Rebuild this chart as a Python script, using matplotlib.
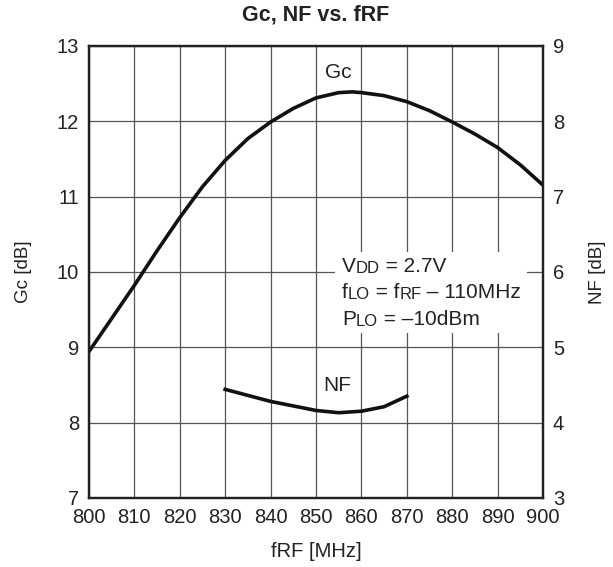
import matplotlib
matplotlib.use("Agg")
import matplotlib.pyplot as plt
from matplotlib.patches import Rectangle

plt.rcParams["font.family"] = ["Liberation Sans", "DejaVu Sans"]

# Gc vs fRF (left axis)
gc_freq = [800, 805, 810, 815, 820, 825, 830, 835, 840, 845, 850, 855, 858, 860, 865, 870, 875, 880, 885, 890, 895, 900]
gc_db = [8.94, 9.38, 9.82, 10.28, 10.72, 11.13, 11.48, 11.77, 11.99, 12.17, 12.31, 12.38, 12.39, 12.38, 12.34, 12.26, 12.14, 11.99, 11.83, 11.65, 11.42, 11.15]

# NF vs fRF (right axis)
nf_freq = [830, 835, 840, 845, 850, 855, 860, 865, 870]
nf_db = [4.44, 4.36, 4.28, 4.22, 4.16, 4.13, 4.15, 4.21, 4.35]

x_ticks = [800, 810, 820, 830, 840, 850, 860, 870, 880, 890, 900]
gc_ticks = [7, 8, 9, 10, 11, 12, 13]
nf_ticks = [3, 4, 5, 6, 7, 8, 9]

fig = plt.figure(figsize=(6.13, 5.67), dpi=100)
ax = fig.add_axes([0.145, 0.122, 0.741, 0.797])
ax2 = ax.twinx()

ax.set_xlim(800, 900)
ax.set_ylim(7, 13)
ax2.set_ylim(3, 9)
ax.set_xticks(x_ticks)
ax.set_yticks(gc_ticks)
ax2.set_yticks(nf_ticks)

ax.grid(True, color="#555555", linewidth=0.9, zorder=0.5)
ax.set_axisbelow(True)
for a in (ax, ax2):
    for s in a.spines.values():
        s.set_linewidth(1.6)
        s.set_color("#222222")
    a.tick_params(direction="in", length=0, labelsize=14.5, pad=7, labelcolor="#222222")

# white box behind the condition text
ax.add_patch(Rectangle((0.542, 0.365), 0.423, 0.179, transform=ax.transAxes,
                       facecolor="white", edgecolor="none", zorder=1))

ax.plot(gc_freq, gc_db, color="#111111", linewidth=2.6, zorder=3)
ax2.plot(nf_freq, nf_db, color="#111111", linewidth=2.6, zorder=3)

ax.text(855, 12.58, "Gc", fontsize=15, ha="center", va="baseline", zorder=4, color="#222222")
ax2.text(854.6, 4.42, "NF", fontsize=15, ha="center", va="baseline", zorder=4, color="#222222")

ax.set_title("Gc, NF vs. fRF", fontsize=15.5, fontweight="bold", pad=18, color="#222222")
ax.set_xlabel("fRF [MHz]", fontsize=14.5, labelpad=11, color="#222222")
ax.set_ylabel("Gc [dB]", fontsize=13.5, labelpad=18, color="#222222")
ax2.set_ylabel("NF [dB]", fontsize=13.5, labelpad=18, color="#222222")


def chain(parts, x, y):
    prev = None
    for txt, size in parts:
        if prev is None:
            prev = ax.text(x, y, txt, fontsize=size, transform=ax.transAxes,
                           va="baseline", ha="left", zorder=4, color="#222222")
        else:
            prev = ax.annotate(txt, xy=(1, 0), xycoords=prev, fontsize=size,
                               va="bottom", ha="left", zorder=4, color="#222222")


chain([("V", 15), ("DD", 12), (" = 2.7V", 15)], 0.557, 0.50)
chain([("f", 15), ("LO", 12), (" = f", 15), ("RF", 12), (" \u2013 110MHz", 15)], 0.557, 0.442)
chain([("P", 15), ("LO", 12), (" = \u201310dBm", 15)], 0.557, 0.383)

fig.savefig("out.png", dpi=100)
